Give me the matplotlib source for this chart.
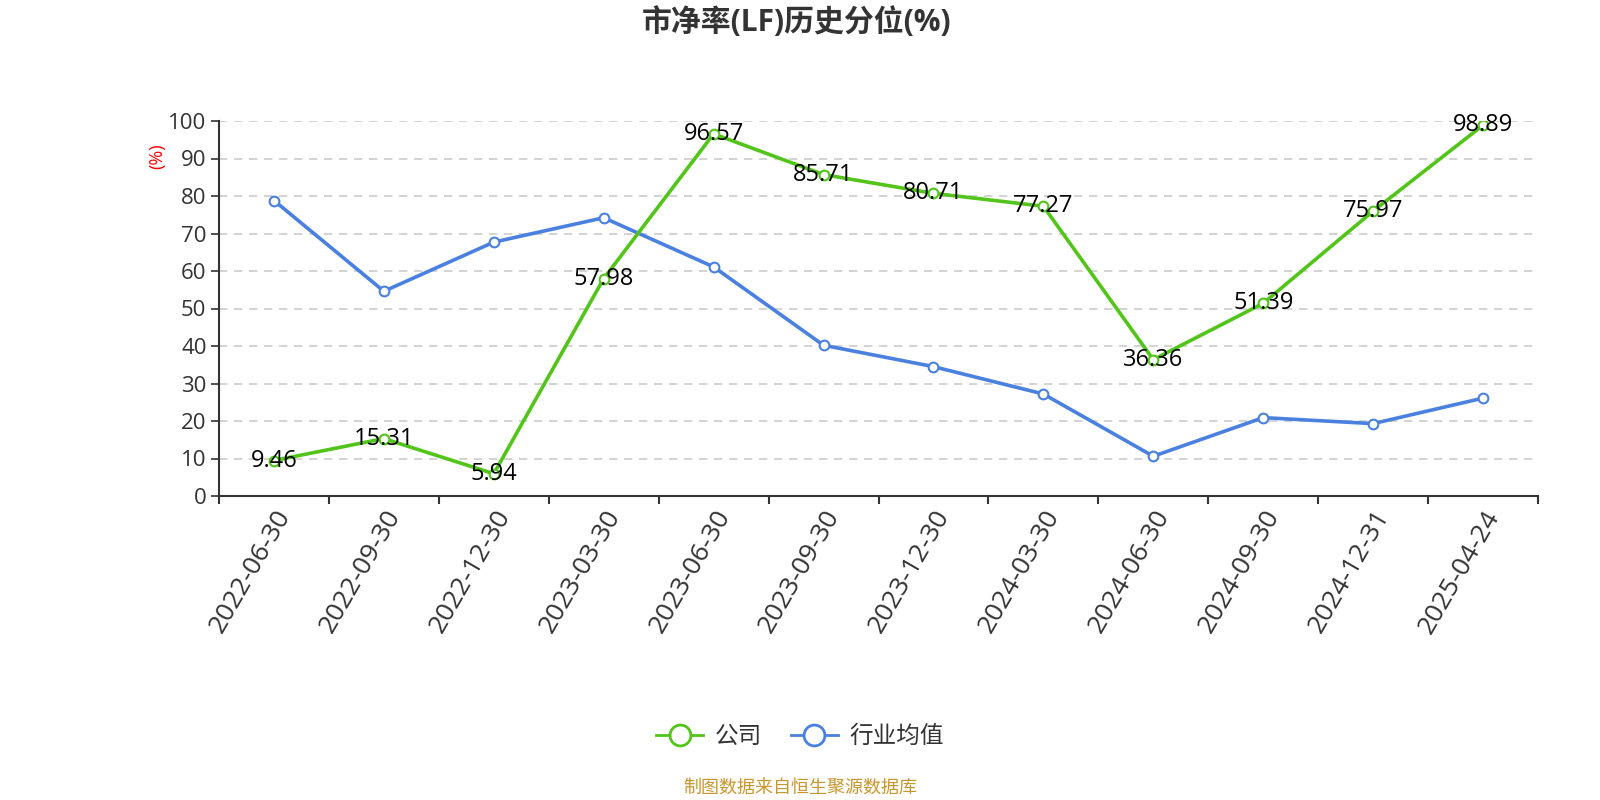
import matplotlib
matplotlib.use('Agg')
import matplotlib.pyplot as plt
import numpy as np
from matplotlib.lines import Line2D

plt.rcParams['font.family'] = ['Open Sans', 'Noto Sans CJK SC', 'DejaVu Sans']

# ---- data ----
dates = ['2022-06-30', '2022-09-30', '2022-12-30', '2023-03-30', '2023-06-30', '2023-09-30',
         '2023-12-30', '2024-03-30', '2024-06-30', '2024-09-30', '2024-12-31', '2025-04-24']
company = [9.46, 15.31, 5.94, 57.98, 96.57, 85.71, 80.71, 77.27, 36.36, 51.39, 75.97, 98.89]
industry = [78.8, 54.6, 67.7, 74.2, 61.1, 40.2, 34.5, 27.2, 10.6, 20.9, 19.3, 26.1]
yticks = list(range(0, 101, 10))

green = '#52c41a'
blue = '#4a80e0'

fig = plt.figure(figsize=(16, 8), dpi=100)
ax = fig.add_axes([219/1600, 1-496/800, 1319/1600, 375/800])

x = np.arange(len(dates))
ax.plot(x, industry, color=blue, lw=2.6, marker='o', ms=7, mfc='white', mec=blue, mew=1.5, zorder=3)
ax.plot(x, company, color=green, lw=2.6, marker='o', ms=7, mfc='white', mec=green, mew=1.5, zorder=4)

for xi, v in zip(x, company):
    ax.annotate(f'{v:.2f}', (xi, v), xytext=(0, 0), textcoords='offset points',
                ha='center', va='center', fontsize=17, color='black', zorder=5)

ax.set_xlim(-0.5, len(dates) - 0.5)
ax.set_ylim(0, 100)
ax.set_yticks(yticks)
ax.set_yticklabels([str(t) for t in yticks], fontsize=16, color='#333333')
ax.yaxis.grid(True, ls=(0, (5, 4)), color='#cccccc', lw=1.2)
ax.set_axisbelow(True)

# ticks on band boundaries, labels in band centres
ax.set_xticks(np.arange(-0.5, len(dates), 1.0))
ax.set_xticklabels([])
ax.set_xticks(x, minor=True)
ax.set_xticklabels(dates, minor=True, rotation=60, ha='right', va='top',
                   rotation_mode='anchor', fontsize=19, color='#333333')
ax.tick_params(axis='x', which='major', length=6, width=1.5, color='#333333')
ax.tick_params(axis='x', which='minor', length=0, pad=7)
ax.tick_params(axis='y', length=6, width=1.2, color='#333333', pad=3)

for s in ['top', 'right']:
    ax.spines[s].set_visible(False)
ax.spines['left'].set_color('#333333')
ax.spines['left'].set_linewidth(1.5)
ax.spines['bottom'].set_color('#333333')
ax.spines['bottom'].set_linewidth(1.5)

fig.text(157/1600, 1-156/800, '(%)', rotation=90, color='red', fontsize=13,
         ha='center', va='center')

fig.text(0.498, 1-23/800, '市净率(LF)历史分位(%)', fontsize=21.5, fontweight='bold',
         color='#333333', ha='center', va='center')

handles = [Line2D([0], [0], color=green, lw=2, marker='o', ms=15, mfc='white', mec=green, mew=2),
           Line2D([0], [0], color=blue, lw=2, marker='o', ms=15, mfc='white', mec=blue, mew=2)]
fig.legend(handles, ['公司', '行业均值'], loc='center', bbox_to_anchor=(0.5, 1-737/800),
           ncol=2, frameon=False, fontsize=17, handlelength=2.0, handletextpad=0.5,
           columnspacing=1.2, labelcolor='#333333')

fig.text(0.5, 1-788/800, '制图数据来自恒生聚源数据库', fontsize=13, color='#c8962e',
         ha='center', va='center')

fig.savefig('out.png', dpi=100)
